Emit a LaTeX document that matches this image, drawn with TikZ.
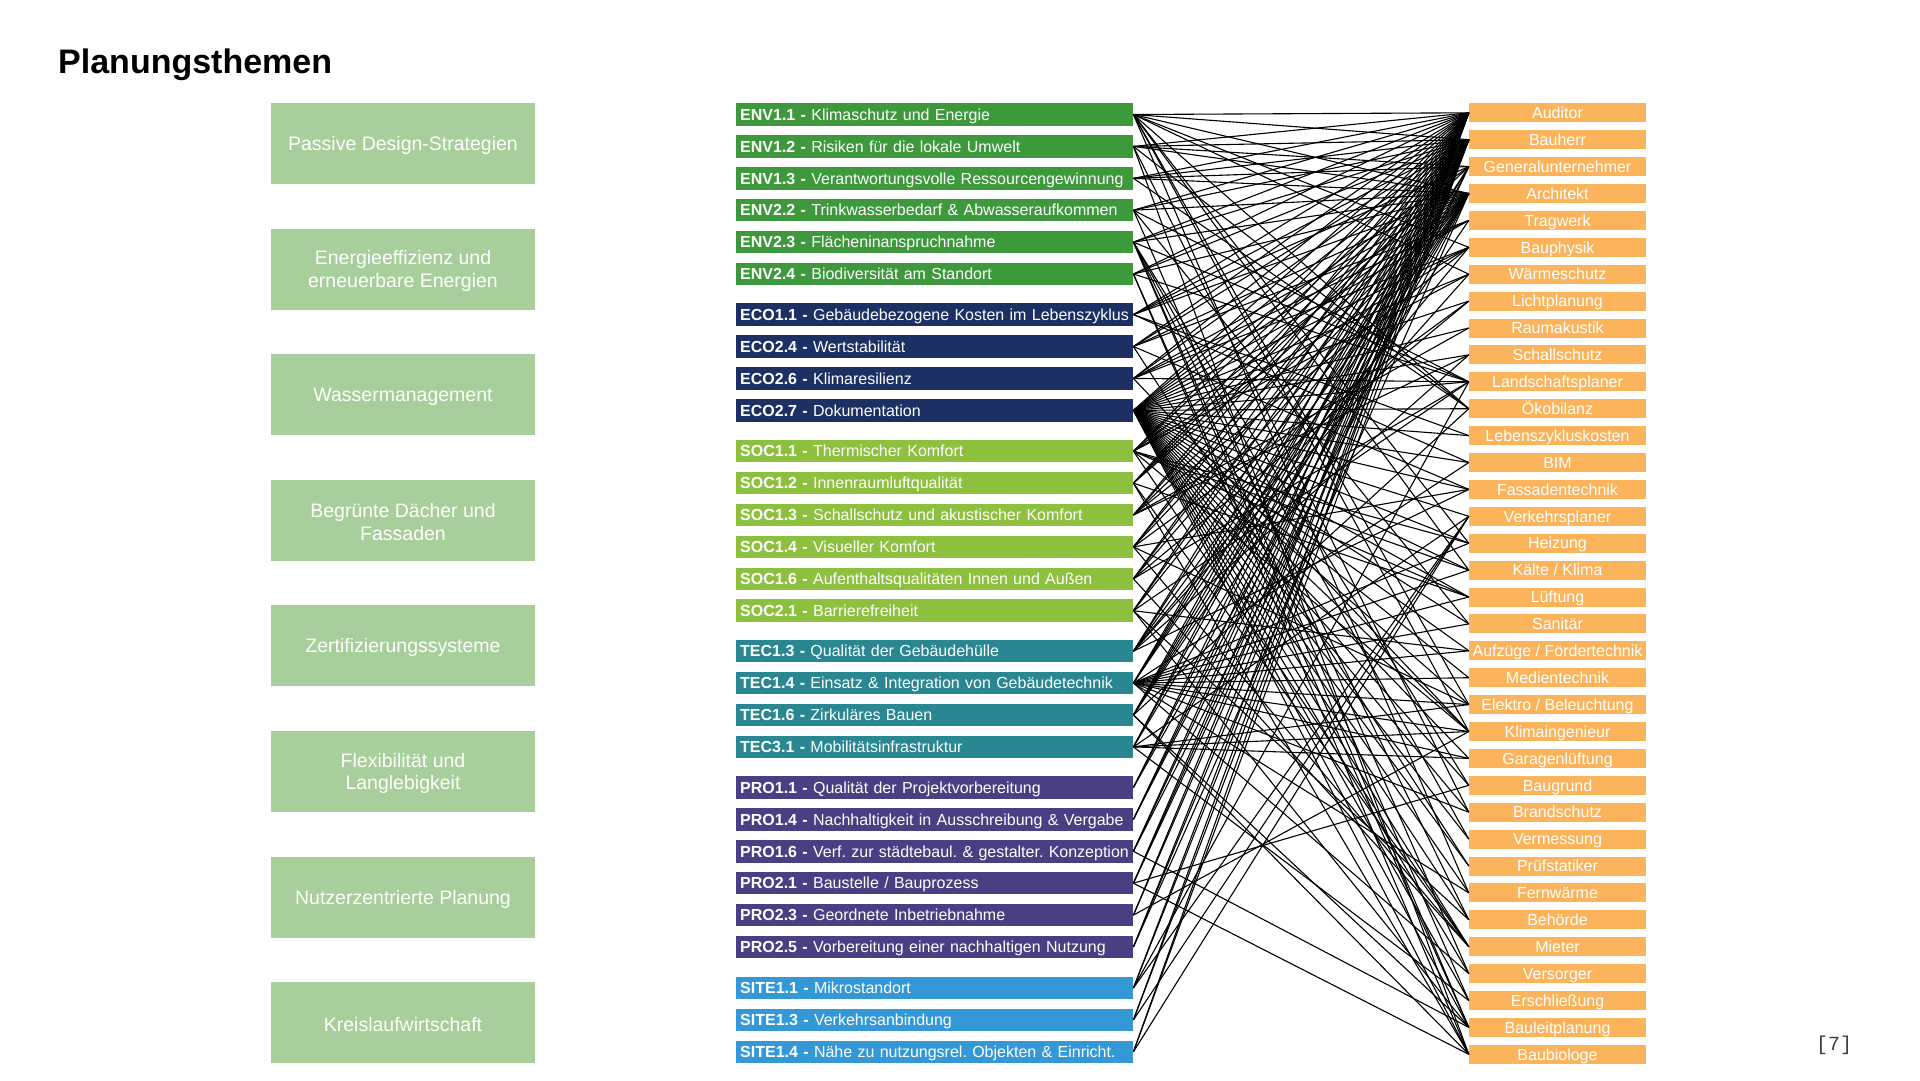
\documentclass[tikz,border=0pt]{standalone}
\usepackage{fontspec}
\setmainfont{Liberation Sans}
\setmonofont{Liberation Mono}
\definecolor{lgreen}{RGB}{168,207,155}
\definecolor{envc}{RGB}{61,153,59}
\definecolor{ecoc}{RGB}{29,48,100}
\definecolor{socc}{RGB}{141,192,63}
\definecolor{tecc}{RGB}{40,135,145}
\definecolor{proc}{RGB}{74,63,130}
\definecolor{sitec}{RGB}{52,152,214}
\definecolor{orng}{RGB}{252,180,92}
\begin{document}
\begin{tikzpicture}[x=1pt,y=-1pt,
  lbox/.style={fill=lgreen,text=white,minimum width=264pt,minimum height=81pt,inner sep=0pt,align=center,font=\fontsize{19.5}{22.5}\selectfont},
  ltext/.style={text=white,inner sep=0pt,align=center,yshift=-2pt,font=\fontsize{19.5}{22.5}\selectfont},
  mbar/.style={anchor=west,text=white,text width=389pt,inner xsep=4pt,inner ysep=0pt,minimum height=22.5pt,text height=11.5pt,text depth=0pt,align=left,font=\fontsize{16}{19}\selectfont\frenchspacing},
  rbox/.style={fill=orng,text=white,minimum width=177pt,minimum height=19pt,inner sep=0pt,text height=11.5pt,text depth=0pt,font=\fontsize{16}{19}\selectfont},
  conn/.style={draw=black,line width=1.1pt}]
\fill[white] (0,0) rectangle (1920,1080);
\useasboundingbox (0,0) rectangle (1920,1080);

\node[anchor=base west,inner sep=0pt] (title) at (58,73.5) {\fontsize{34}{40}\selectfont\bfseries Planungsthemen};
\node[text=black!75,inner sep=0pt] (page) at (1834,1045) {\fontsize{20}{24}\selectfont\ttfamily [7]};

% left boxes
\node[lbox] (L1) at (403,143.4) {};
\node[ltext] (T1) at (L1.center) {Passive Design-Strategien};
\node[lbox] (L2) at (403,269.0) {};
\node[ltext] (T2) at (L2.center) {Energieeffizienz und\\erneuerbare Energien};
\node[lbox] (L3) at (403,394.6) {};
\node[ltext] (T3) at (L3.center) {Wassermanagement};
\node[lbox] (L4) at (403,520.2) {};
\node[ltext] (T4) at (L4.center) {Begrünte Dächer und\\Fassaden};
\node[lbox] (L5) at (403,645.8) {};
\node[ltext] (T5) at (L5.center) {Zertifizierungssysteme};
\node[lbox] (L6) at (403,771.4) {};
\node[ltext] (T6) at (L6.center) {Flexibilität und\\Langlebigkeit};
\node[lbox] (L7) at (403,897.0) {};
\node[ltext] (T7) at (L7.center) {Nutzerzentrierte Planung};
\node[lbox] (L8) at (403,1022.6) {};
\node[ltext] (T8) at (L8.center) {Kreislaufwirtschaft};

% middle bars
\node[mbar,fill=envc] (m1) at (736,114.5) {\textbf{ENV1.1 -} Klimaschutz und Energie};
\node[mbar,fill=envc] (m2) at (736,146.4) {\textbf{ENV1.2 -} Risiken für die lokale Umwelt};
\node[mbar,fill=envc] (m3) at (736,178.3) {\textbf{ENV1.3 -} Verantwortungsvolle Ressourcengewinnung};
\node[mbar,fill=envc] (m4) at (736,210.2) {\textbf{ENV2.2 -} Trinkwasserbedarf \& Abwasseraufkommen};
\node[mbar,fill=envc] (m5) at (736,242.1) {\textbf{ENV2.3 -} Flächeninanspruchnahme};
\node[mbar,fill=envc] (m6) at (736,274.0) {\textbf{ENV2.4 -} Biodiversität am Standort};
\node[mbar,fill=ecoc] (m7) at (736,314.6) {\textbf{ECO1.1 -} Gebäudebezogene Kosten im Lebenszyklus};
\node[mbar,fill=ecoc] (m8) at (736,346.5) {\textbf{ECO2.4 -} Wertstabilität};
\node[mbar,fill=ecoc] (m9) at (736,378.4) {\textbf{ECO2.6 -} Klimaresilienz};
\node[mbar,fill=ecoc] (m10) at (736,410.3) {\textbf{ECO2.7 -} Dokumentation};
\node[mbar,fill=socc] (m11) at (736,451.2) {\textbf{SOC1.1 -} Thermischer Komfort};
\node[mbar,fill=socc] (m12) at (736,483.1) {\textbf{SOC1.2 -} Innenraumluftqualität};
\node[mbar,fill=socc] (m13) at (736,515.0) {\textbf{SOC1.3 -} Schallschutz und akustischer Komfort};
\node[mbar,fill=socc] (m14) at (736,546.9) {\textbf{SOC1.4 -} Visueller Komfort};
\node[mbar,fill=socc] (m15) at (736,578.8) {\textbf{SOC1.6 -} Aufenthaltsqualitäten Innen und Außen};
\node[mbar,fill=socc] (m16) at (736,610.7) {\textbf{SOC2.1 -} Barrierefreiheit};
\node[mbar,fill=tecc] (m17) at (736,651.2) {\textbf{TEC1.3 -} Qualität der Gebäudehülle};
\node[mbar,fill=tecc] (m18) at (736,683.1) {\textbf{TEC1.4 -} Einsatz \& Integration von Gebäudetechnik};
\node[mbar,fill=tecc] (m19) at (736,715.0) {\textbf{TEC1.6 -} Zirkuläres Bauen};
\node[mbar,fill=tecc] (m20) at (736,746.9) {\textbf{TEC3.1 -} Mobilitätsinfrastruktur};
\node[mbar,fill=proc] (m21) at (736,787.5) {\textbf{PRO1.1 -} Qualität der Projektvorbereitung};
\node[mbar,fill=proc] (m22) at (736,819.4) {\textbf{PRO1.4 -} Nachhaltigkeit in Ausschreibung \& Vergabe};
\node[mbar,fill=proc] (m23) at (736,851.3) {\mbox{\textbf{PRO1.6 -} Verf. zur städtebaul. \& gestalter. Konzeption}};
\node[mbar,fill=proc] (m24) at (736,883.2) {\textbf{PRO2.1 -} Baustelle / Bauprozess};
\node[mbar,fill=proc] (m25) at (736,915.1) {\textbf{PRO2.3 -} Geordnete Inbetriebnahme};
\node[mbar,fill=proc] (m26) at (736,947.0) {\textbf{PRO2.5 -} Vorbereitung einer nachhaltigen Nutzung};
\node[mbar,fill=sitec] (m27) at (736,988.0) {\textbf{SITE1.1 -} Mikrostandort};
\node[mbar,fill=sitec] (m28) at (736,1019.9) {\textbf{SITE1.3 -} Verkehrsanbindung};
\node[mbar,fill=sitec] (m29) at (736,1051.8) {\mbox{\textbf{SITE1.4 -} Nähe zu nutzungsrel. Objekten \& Einricht.}};

% right boxes
\node[rbox] (r1) at (1557.5,112.8) {Auditor};
\node[rbox] (r2) at (1557.5,139.7) {Bauherr};
\node[rbox] (r3) at (1557.5,166.6) {Generalunternehmer};
\node[rbox] (r4) at (1557.5,193.5) {Architekt};
\node[rbox] (r5) at (1557.5,220.4) {Tragwerk};
\node[rbox] (r6) at (1557.5,247.3) {Bauphysik};
\node[rbox] (r7) at (1557.5,274.2) {Wärmeschutz};
\node[rbox] (r8) at (1557.5,301.1) {Lichtplanung};
\node[rbox] (r9) at (1557.5,328.0) {Raumakustik};
\node[rbox] (r10) at (1557.5,354.9) {Schallschutz};
\node[rbox] (r11) at (1557.5,381.8) {Landschaftsplaner};
\node[rbox] (r12) at (1557.5,408.7) {Ökobilanz};
\node[rbox] (r13) at (1557.5,435.6) {Lebenszykluskosten};
\node[rbox] (r14) at (1557.5,462.5) {BIM};
\node[rbox] (r15) at (1557.5,489.4) {Fassadentechnik};
\node[rbox] (r16) at (1557.5,516.3) {Verkehrsplaner};
\node[rbox] (r17) at (1557.5,543.2) {Heizung};
\node[rbox] (r18) at (1557.5,570.1) {Kälte / Klima};
\node[rbox] (r19) at (1557.5,597.0) {Lüftung};
\node[rbox] (r20) at (1557.5,623.9) {Sanitär};
\node[rbox] (r21) at (1557.5,650.8) {Aufzüge / Fördertechnik};
\node[rbox] (r22) at (1557.5,677.7) {Medientechnik};
\node[rbox] (r23) at (1557.5,704.6) {Elektro / Beleuchtung};
\node[rbox] (r24) at (1557.5,731.5) {Klimaingenieur};
\node[rbox] (r25) at (1557.5,758.4) {Garagenlüftung};
\node[rbox] (r26) at (1557.5,785.3) {Baugrund};
\node[rbox] (r27) at (1557.5,812.2) {Brandschutz};
\node[rbox] (r28) at (1557.5,839.1) {Vermessung};
\node[rbox] (r29) at (1557.5,866.0) {Prüfstatiker};
\node[rbox] (r30) at (1557.5,892.9) {Fernwärme};
\node[rbox] (r31) at (1557.5,919.8) {Behörde};
\node[rbox] (r32) at (1557.5,946.7) {Mieter};
\node[rbox] (r33) at (1557.5,973.6) {Versorger};
\node[rbox] (r34) at (1557.5,1000.5) {Erschließung};
\node[rbox] (r35) at (1557.5,1027.4) {Bauleitplanung};
\node[rbox] (r36) at (1557.5,1054.3) {Baubiologe};

% connectors
\foreach \b in {1,2,4,6,7,12,17,18,23,24,30} \draw[conn] (m1.east) -- (r\b.west);
\foreach \b in {1,2,3,4,12,27,36} \draw[conn] (m2.east) -- (r\b.west);
\foreach \b in {1,2,3,4,12} \draw[conn] (m3.east) -- (r\b.west);
\foreach \b in {1,2,4,11,20,33} \draw[conn] (m4.east) -- (r\b.west);
\foreach \b in {1,2,4,11,26,28,31,34,35} \draw[conn] (m5.east) -- (r\b.west);
\foreach \b in {1,2,4,11,35,36} \draw[conn] (m6.east) -- (r\b.west);
\foreach \b in {1,2,3,4,13,14} \draw[conn] (m7.east) -- (r\b.west);
\foreach \b in {1,2,4,5,15,29} \draw[conn] (m8.east) -- (r\b.west);
\foreach \b in {1,2,4,5,6,11,24} \draw[conn] (m9.east) -- (r\b.west);
\foreach \b in {1,...,36} \draw[conn] (m10.east) -- (r\b.west);
\foreach \b in {1,2,4,6,7,17,18,19,24,32} \draw[conn] (m11.east) -- (r\b.west);
\foreach \b in {1,2,3,4,19,32,36} \draw[conn] (m12.east) -- (r\b.west);
\foreach \b in {1,2,4,6,9,10} \draw[conn] (m13.east) -- (r\b.west);
\foreach \b in {1,2,4,8,15,23,32} \draw[conn] (m14.east) -- (r\b.west);
\foreach \b in {1,2,4,8,11,32} \draw[conn] (m15.east) -- (r\b.west);
\foreach \b in {1,2,4,11,21,31,35} \draw[conn] (m16.east) -- (r\b.west);
\foreach \b in {1,2,4,6,7,10,15} \draw[conn] (m17.east) -- (r\b.west);
\foreach \b in {1,2,3,4,14,17,18,19,20,21,22,23,24,25,27,30,33} \draw[conn] (m18.east) -- (r\b.west);
\foreach \b in {1,2,3,4,5,12,35,36} \draw[conn] (m19.east) -- (r\b.west);
\foreach \b in {1,2,4,16,23,24,25,34} \draw[conn] (m20.east) -- (r\b.west);
\foreach \b in {1,2,4} \draw[conn] (m21.east) -- (r\b.west);
\foreach \b in {1,2,3} \draw[conn] (m22.east) -- (r\b.west);
\foreach \b in {1,2,4,35} \draw[conn] (m23.east) -- (r\b.west);
\foreach \b in {1,2,3,26,36} \draw[conn] (m24.east) -- (r\b.west);
\foreach \b in {1,2,24} \draw[conn] (m25.east) -- (r\b.west);
\foreach \b in {1,2,4} \draw[conn] (m26.east) -- (r\b.west);
\foreach \b in {1,2,11,16} \draw[conn] (m27.east) -- (r\b.west);
\foreach \b in {1,2,16} \draw[conn] (m28.east) -- (r\b.west);
\foreach \b in {1,2,16} \draw[conn] (m29.east) -- (r\b.west);
\end{tikzpicture}
\end{document}
